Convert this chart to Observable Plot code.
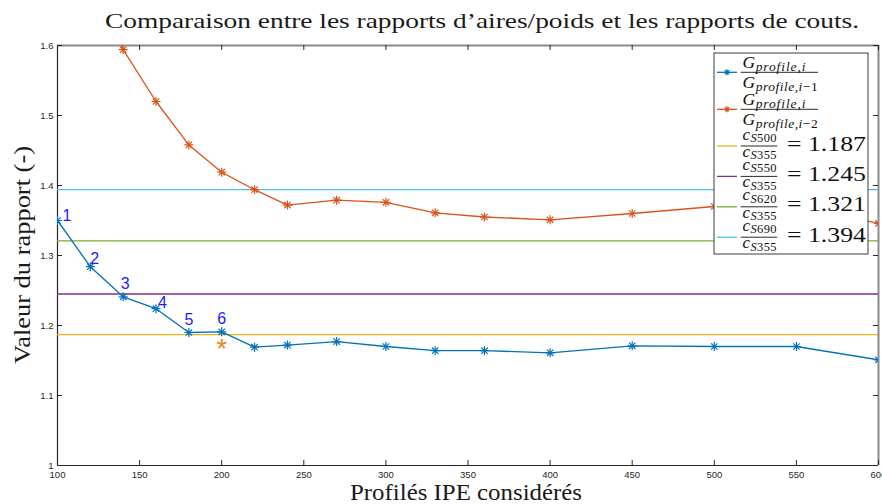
<!DOCTYPE html>
<html>
<head>
<meta charset="utf-8">
<script src="https://cdn.jsdelivr.net/npm/d3@7"></script>
<script src="https://cdn.jsdelivr.net/npm/@observablehq/plot@0.6"></script>
<style>
  body { margin: 0; background: #fff; }
  #chart svg { display: block; }
</style>
</head>
<body>
<div id="chart"></div>
<script>
// IPE profile sizes and weight ratios G(i)/G(i-1)
const profiles = [100, 120, 140, 160, 180, 200, 220, 240, 270, 300, 330, 360, 400, 450, 500, 550, 600];
const ratioPrev = [1.350, 1.284, 1.241, 1.224, 1.190, 1.191, 1.169, 1.172, 1.177, 1.170, 1.164, 1.164, 1.161, 1.171, 1.170, 1.170, 1.151];

// Weight ratios G(i)/G(i-2)
const profilesPrev2 = [120, 140, 160, 180, 200, 220, 240, 270, 300, 330, 360, 400, 450, 500, 550, 600];
const ratioPrev2 = [1.733, 1.594, 1.520, 1.458, 1.419, 1.394, 1.372, 1.379, 1.376, 1.361, 1.355, 1.351, 1.360, 1.370, 1.370, 1.346];

// Cost ratios of higher steel grades relative to S355
const steelGrades = ["S500", "S550", "S620", "S690"];
const costRatios = [1.187, 1.245, 1.321, 1.394];

// Numbered points on the first series and the highlighted profile
const pointLabels = ["1", "2", "3", "4", "5", "6"];
const markedProfile = [200];
const markedValue = [1.176];

// Axis ticks
const xTicks = [100, 150, 200, 250, 300, 350, 400, 450, 500, 550, 600];
const yTicks = [1, 1.1, 1.2, 1.3, 1.4, 1.5, 1.6];

const blue = "#0072BD", orange = "#D95319";
const costColors = ["#EDB120", "#7E2F8E", "#77AC30", "#4DBEEE"];
const serif = "'Liberation Serif', 'Times New Roman', serif";
const sans = "'Liberation Sans', Arial, sans-serif";

const prevData = profiles.map((p, i) => ({p, v: ratioPrev[i]}));
const prev2Data = profilesPrev2.map((p, i) => ({p, v: ratioPrev2[i]}));
const costData = costRatios.map((v, i) => ({v, grade: steelGrades[i], color: costColors[i]}));
const labelData = pointLabels.map((t, i) => ({t, p: profiles[i], v: ratioPrev[i]}));
const starData = markedProfile.map((p, i) => ({p, v: markedValue[i]}));

// per-label placement next to its point: [dx, dy, anchor]
const labelPlace = [[5, -5, "start"], [0, -8, "start"], [2, -13, "middle"], [2, -6, "start"], [0, -13, "middle"], [0, -13, "middle"]];

const W = 882, H = 504;
const mL = 57, mR = 4, mT = 45, mB = 39;
const fw = W - mL - mR, fh = H - mT - mB;

const markers = (data, color) => [
  Plot.dot(data, {x: "p", y: "v", symbol: "plus", r: 3, stroke: color, strokeWidth: 1.2, clip: true}),
  Plot.dot(data, {x: "p", y: "v", symbol: "times", r: 3, stroke: color, strokeWidth: 1.2, clip: true})
];

const chart = Plot.plot({
  width: W,
  height: H,
  marginLeft: mL, marginRight: mR, marginTop: mT, marginBottom: mB,
  style: {fontFamily: sans, background: "white"},
  x: {domain: [100, 600]},
  y: {domain: [1, 1.6]},
  marks: [
    // axis labels (ticks drawn inward separately)
    Plot.axisX(xTicks, {tickSize: 0, tickPadding: 6, fontSize: 9.5, fill: "#262626", label: null}),
    Plot.axisY(yTicks, {tickSize: 0, tickPadding: 4, fontSize: 9.5, fill: "#262626", label: null,
      tickFormat: d => String(+d.toFixed(1))}),
    // axes box
    Plot.ruleY([1.6], {stroke: "#8a8a8a", strokeWidth: 2}),
    Plot.ruleX([600], {stroke: "#8a8a8a", strokeWidth: 2}),
    Plot.ruleY([1], {stroke: "#262626", strokeWidth: 1.2}),
    Plot.ruleX([100], {stroke: "#262626", strokeWidth: 1.2}),
    // inward ticks on all four sides
    Plot.tickX(xTicks, {x: d => d, insetTop: fh - 5, stroke: "#262626"}),
    Plot.tickX(xTicks, {x: d => d, insetBottom: fh - 5, stroke: "#262626"}),
    Plot.tickY(yTicks, {y: d => d, insetRight: fw - 5, stroke: "#262626"}),
    Plot.tickY(yTicks, {y: d => d, insetLeft: fw - 5, stroke: "#262626"}),
    // cost ratio reference lines
    Plot.ruleY(costData, {y: "v", stroke: "color", strokeWidth: 1.3}),
    // weight ratio series
    Plot.line(prevData, {x: "p", y: "v", stroke: blue, strokeWidth: 1.3, clip: true}),
    ...markers(prevData, blue),
    Plot.line(prev2Data, {x: "p", y: "v", stroke: orange, strokeWidth: 1.3, clip: true}),
    ...markers(prev2Data, orange),
    // numbered points
    ...labelData.map((d, i) => Plot.text([d], {
      x: "p", y: "v", text: "t", dx: labelPlace[i][0], dy: labelPlace[i][1],
      textAnchor: labelPlace[i][2], fill: "#1a1aff", fontSize: 16, fontFamily: sans
    })),
    // highlighted profile
    Plot.text(starData, {x: "p", y: "v", text: () => "*", dy: 7, fill: "#E5891A",
      fontSize: 27, fontFamily: sans})
  ]
});

document.getElementById("chart").append(chart);
const svg = d3.select(chart);

// title and axis titles
svg.append("text")
  .attr("x", 482).attr("y", 28).attr("text-anchor", "middle")
  .attr("font-family", serif).attr("font-size", 21).attr("fill", "#1a1a1a")
  .attr("textLength", 754).attr("lengthAdjust", "spacingAndGlyphs")
  .text("Comparaison entre les rapports d’aires/poids et les rapports de couts.");
svg.append("text")
  .attr("x", 466).attr("y", 500).attr("text-anchor", "middle")
  .attr("font-family", serif).attr("font-size", 23).attr("fill", "#1a1a1a")
  .attr("textLength", 232).attr("lengthAdjust", "spacingAndGlyphs")
  .text("Profilés IPE considérés");
svg.append("text")
  .attr("transform", "translate(30,255) rotate(-90)").attr("text-anchor", "middle")
  .attr("font-family", serif).attr("font-size", 23).attr("fill", "#1a1a1a")
  .attr("textLength", 218).attr("lengthAdjust", "spacingAndGlyphs")
  .text("Valeur du rapport (-)");

// legend
const lg = svg.append("g").attr("font-family", serif).attr("fill", "#111").attr("text-anchor", "start");
lg.append("rect").attr("x", 714).attr("y", 53).attr("width", 154).attr("height", 201)
  .attr("fill", "white").attr("stroke", "#262626").attr("stroke-width", 0.9);

function sample(y, color, withMarker) {
  lg.append("line").attr("x1", 717).attr("x2", 737).attr("y1", y).attr("y2", y)
    .attr("stroke", color).attr("stroke-width", 1.3);
  if (withMarker) {
    const r = 3, cx = 727;
    const path = `M${cx - r},${y}H${cx + r}M${cx},${y - r}V${y + r}` +
      `M${cx - r * .7},${y - r * .7}L${cx + r * .7},${y + r * .7}M${cx - r * .7},${y + r * .7}L${cx + r * .7},${y - r * .7}`;
    lg.append("path").attr("d", path).attr("stroke", color).attr("stroke-width", 1.2).attr("fill", "none");
  }
}

function bar(y, x1, x2) {
  lg.append("line").attr("x1", x1).attr("x2", x2).attr("y1", y).attr("y2", y)
    .attr("stroke", "#111").attr("stroke-width", 0.9);
}

// symbol with subscript made of [text, italic] parts
function term(x, y, base, baseSize, parts, subSize, shift, spacing) {
  const t = lg.append("text").attr("x", x).attr("y", y).attr("text-anchor", "start");
  t.append("tspan").attr("font-style", "italic").attr("font-size", baseSize).text(base);
  parts.forEach(([s, it], k) => {
    const ts = t.append("tspan").attr("font-size", subSize)
      .attr("font-style", it ? "italic" : "normal")
      .attr("letter-spacing", spacing).text(s);
    if (k === 0) ts.attr("dy", shift).attr("dx", 0.5);
  });
}

const seriesRows = [
  {y: 72.3, color: blue, den: [["profile,i", true], ["−1", false]]},
  {y: 109.3, color: orange, den: [["profile,i", true], ["−2", false]]}
];
seriesRows.forEach(r => {
  sample(r.y, r.color, true);
  term(742.5, r.y - 4.6, "G", 17.5, [["profile,i", true]], 13.5, 3, 0.9);
  bar(r.y, 740.7, 818);
  term(742.5, r.y + 16, "G", 17.5, r.den, 13.5, 3, 0.5);
});

costData.forEach((d, i) => {
  const y = 146 + i * 30.4;
  sample(y, d.color, false);
  term(742.5, y - 6.5, "c", 17, [["S", true], [d.grade.slice(1), false]], 12.5, 2.3, 0.3);
  bar(y, 740.7, 777.3);
  term(742.5, y + 11, "c", 17, [["S", true], ["355", false]], 12.5, 2.3, 0.3);
  lg.append("text").attr("x", 787).attr("y", y + 4.5).attr("font-size", 22)
    .attr("text-anchor", "start")
    .attr("textLength", 79).attr("lengthAdjust", "spacingAndGlyphs")
    .text("= " + d.v.toFixed(3));
});
</script>
</body>
</html>
